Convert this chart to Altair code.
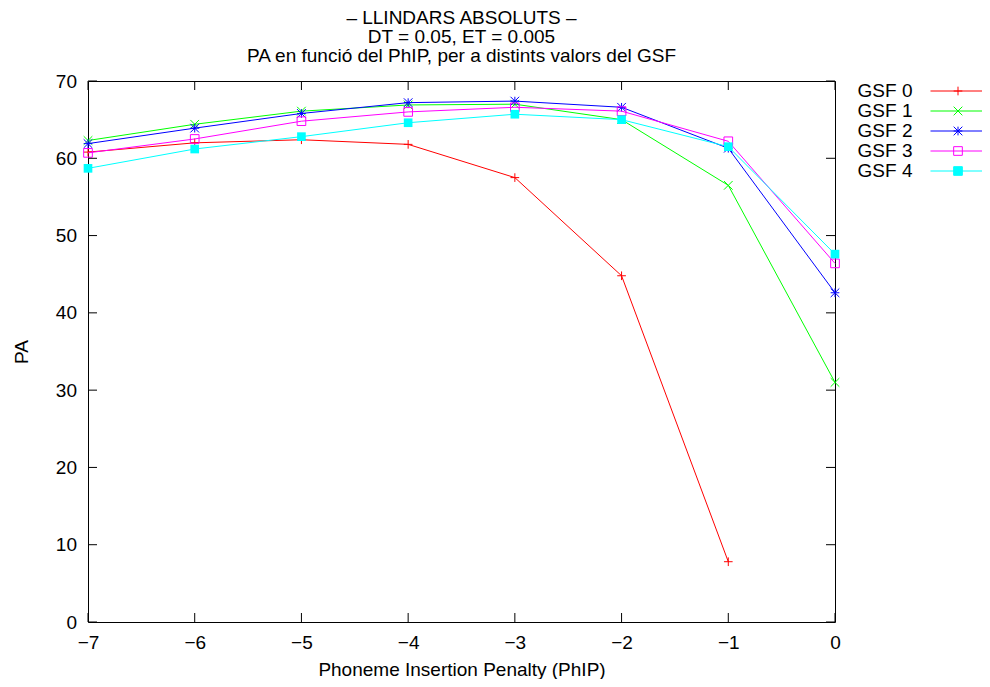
import altair as alt
import pandas as pd

phip = [-7, -6, -5, -4, -3, -2, -1, 0]
series_names = ["GSF 0", "GSF 1", "GSF 2", "GSF 3", "GSF 4"]
gsf0 = [60.8, 62.0, 62.4, 61.8, 57.5, 44.8, 7.8, None]
gsf1 = [62.3, 64.4, 66.1, 66.9, 67.0, 65.0, 56.5, 31.0]
gsf2 = [61.9, 63.9, 65.8, 67.2, 67.4, 66.6, 61.3, 42.6]
gsf3 = [60.7, 62.5, 64.8, 66.0, 66.6, 66.1, 62.2, 46.4]
gsf4 = [58.7, 61.2, 62.8, 64.6, 65.7, 65.0, 61.5, 47.6]
colors = ["#ff0000", "#00ff00", "#0000ff", "#ff00ff", "#00ffff"]
x_ticks = list(range(-7, 1))
y_ticks = list(range(0, 71, 10))

title_lines = ["\u2013 LLINDARS ABSOLUTS \u2013", "DT = 0.05, ET = 0.005",
               "PA en funci\u00f3 del PhIP, per a distints valors del GSF"]

rows = []
for name, vals in zip(series_names, [gsf0, gsf1, gsf2, gsf3, gsf4]):
    for xv, yv in zip(phip, vals):
        if yv is not None:
            rows.append({"phip": xv, "pa": yv, "series": name})
df = pd.DataFrame(rows)

W, H = 747, 541
FONT = "Liberation Sans"
TICK = 9

plus = "M-1,0H1M0,-1V1"
cross = "M-1,-1L1,1M-1,1L1,-1"
star = plus + cross
square = "M-1,-1H1V1H-1Z"
markers = [plus, cross, star, square, square]
filled = [False, False, False, False, True]
seg = "M-6.35,0H6.35"
legend_paths = [seg + m for m in markers]

xscale = alt.Scale(domain=[-7, 0], nice=False, zero=False)
yscale = alt.Scale(domain=[0, 70], nice=False)
x_axis = alt.Axis(values=x_ticks, title="Phoneme Insertion Penalty (PhIP)", ticks=False,
                  domain=False, grid=False, labelPadding=11, titlePadding=8, format="d",
                  labelFlush=False)
y_axis = alt.Axis(values=y_ticks, title="PA", ticks=False, domain=False, grid=False,
                  labelPadding=11.5, titlePadding=24, format="d", labelFlush=False)
x_enc = alt.X("phip:Q", scale=xscale, axis=x_axis)
y_enc = alt.Y("pa:Q", scale=yscale, axis=y_axis)

layers = []
for name, col, mk, fl in zip(series_names, colors, markers, filled):
    sub = alt.Chart(df).transform_filter(alt.datum.series == name)
    layers.append(sub.mark_line(color=col, strokeWidth=1).encode(x=x_enc, y=y_enc))
    layers.append(sub.mark_point(shape=mk, size=75, color=col, filled=fl, strokeWidth=1,
                                 opacity=1).encode(x=x_enc, y=y_enc))

xt = pd.DataFrame({"phip": x_ticks})
yt = pd.DataFrame({"pa": y_ticks})
layers.append(alt.Chart(xt).mark_rule(color="black", strokeWidth=1).encode(
    x=x_enc, y=alt.value(H), y2=alt.value(H - TICK)))
layers.append(alt.Chart(xt).mark_rule(color="black", strokeWidth=1).encode(
    x=x_enc, y=alt.value(0), y2=alt.value(TICK)))
layers.append(alt.Chart(yt).mark_rule(color="black", strokeWidth=1).encode(
    y=y_enc, x=alt.value(0), x2=alt.value(TICK)))
layers.append(alt.Chart(yt).mark_rule(color="black", strokeWidth=1).encode(
    y=y_enc, x=alt.value(W - TICK), x2=alt.value(W)))

leg = alt.Legend(orient="none", legendX=860.5, legendY=0.5, title=None, labelFont=FONT,
                 labelFontSize=19, labelColor="black", labelAlign="right",
                 labelOffset={"expr": "-55"},
                 symbolSize=75, symbolStrokeWidth=1, padding=0, rowPadding=0,
                 symbolOffset=0)
layers.append(alt.Chart(df).transform_filter("false").mark_point(
    size=75, strokeWidth=1, opacity=1, filled=False).encode(
    x=x_enc, y=y_enc,
    color=alt.Color("series:N", scale=alt.Scale(domain=series_names, range=colors), legend=leg),
    shape=alt.Shape("series:N", scale=alt.Scale(domain=series_names, range=legend_paths), legend=leg),
    fill=alt.Fill("series:N", scale=alt.Scale(domain=series_names,
                  range=["transparent"] * 4 + ["#00ffff"]), legend=leg),
))

chart = alt.layer(*layers).properties(
    width=W, height=H,
    title=alt.Title(text=title_lines, fontSize=19, font=FONT, fontWeight="normal",
                    lineHeight=19, offset=6, anchor="middle", color="black"),
    padding={"left": 80, "top": 73, "right": 147, "bottom": 57},
    autosize=alt.AutoSizeParams(type="none"),
).configure_view(stroke="black", strokeWidth=1).configure_axis(
    labelFont=FONT, titleFont=FONT, labelFontSize=19, titleFontSize=19,
    labelColor="black", titleColor="black", titleFontWeight="normal",
)

chart.save("out.html", embed_options={"renderer": "svg", "actions": False})
